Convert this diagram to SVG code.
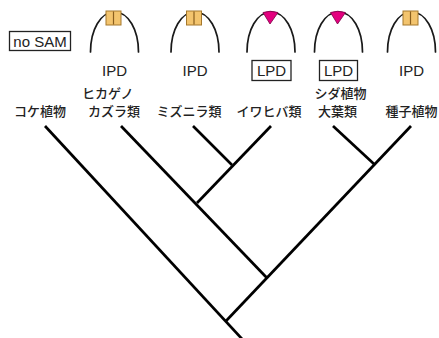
<svg xmlns="http://www.w3.org/2000/svg" xmlns:xlink="http://www.w3.org/1999/xlink" width="439" height="338" viewBox="0 0 439 338">
  <style>
    .arch { fill: none; stroke: #1a1a1a; stroke-width: 1.7; stroke-linecap: round; }
    .ipd { fill: #f3c46e; stroke: #a5782c; stroke-width: 1; }
    .ipd-div { stroke: #8a5f1e; stroke-width: 1.2; }
    .lpd { fill: #e4007f; stroke: #7a0045; stroke-width: 0.8; stroke-linejoin: round; }
    .box { fill: #fff; stroke: #222; stroke-width: 1.3; }
    .lat { font-family: "Liberation Sans", Arial, sans-serif; font-size: 15px; fill: #222; text-anchor: middle; }
    .jp { font-family: "Noto Sans CJK JP", "Noto Sans CJK SC", sans-serif; font-size: 13px; font-weight: 500; fill: #222; }
    .mid { text-anchor: middle; }
    .branch { fill: none; stroke: #000; stroke-width: 2.7; stroke-linecap: butt; }
  </style>
  <defs>
    <!-- shoot-apex dome, centred on x = 0 -->
    <path id="dome" class="arch" d="M -24,52 C -24,30 -14,12 0,12 C 14,12 24,30 24,52"/>
    <!-- initial-cell group: two cells side by side -->
    <g id="ipdCells">
      <rect class="ipd" x="-8.5" y="11" width="15" height="14"/>
      <line class="ipd-div" x1="-1" y1="11.5" x2="-1" y2="24.5"/>
    </g>
    <!-- single apical cell -->
    <path id="lpdCell" class="lpd" d="M -8,12.5 Q -1,10 7,12.5 L -1,24 Z"/>
  </defs>

  <g id="legend-no-sam">
    <rect class="box" x="9.5" y="31.5" width="61" height="19"/>
    <text class="lat" x="40" y="46.5">no SAM</text>
  </g>

  <g id="bryophytes">
    <text class="jp" x="14" y="116">コケ植物</text>
  </g>

  <g id="lycopodiaceae" transform="translate(114.5,0)">
    <use xlink:href="#dome"/>
    <use xlink:href="#ipdCells"/>
    <text class="lat" x="0" y="76">IPD</text>
  </g>
  <g id="lycopodiaceae-label">
    <text class="jp" x="82" y="98">ヒカゲノ</text>
    <text class="jp" x="88" y="116">カズラ類</text>
  </g>

  <g id="isoetaceae" transform="translate(195,0)">
    <use xlink:href="#dome"/>
    <use xlink:href="#ipdCells"/>
    <text class="lat" x="0" y="76">IPD</text>
    <text class="jp mid" x="-6" y="116">ミズニラ類</text>
  </g>

  <g id="selaginellaceae" transform="translate(271,0)">
    <use xlink:href="#dome"/>
    <use xlink:href="#lpdCell"/>
    <rect class="box" x="-19" y="60.5" width="39" height="20"/>
    <text class="lat" x="0.5" y="76">LPD</text>
    <text class="jp mid" x="-2" y="116">イワヒバ類</text>
  </g>

  <g id="monilophytes" transform="translate(338.5,0)">
    <use xlink:href="#dome"/>
    <use xlink:href="#lpdCell"/>
    <rect class="box" x="-19" y="60.5" width="38" height="20"/>
    <text class="lat" x="0" y="76">LPD</text>
    <text class="jp mid" x="2" y="98">シダ植物</text>
    <text class="jp mid" x="-1" y="116">大葉類</text>
  </g>

  <g id="seed-plants" transform="translate(411.5,0)">
    <use xlink:href="#dome"/>
    <use xlink:href="#ipdCells"/>
    <text class="lat" x="0" y="76">IPD</text>
    <text class="jp mid" x="0" y="116">種子植物</text>
  </g>

  <g id="tree">
    <line class="branch" x1="45" y1="126" x2="243" y2="340"/>
    <line class="branch" x1="121" y1="126" x2="267" y2="278"/>
    <line class="branch" x1="193" y1="126" x2="232" y2="165"/>
    <line class="branch" x1="271" y1="126" x2="197" y2="203"/>
    <line class="branch" x1="333" y1="126" x2="374" y2="164"/>
    <line class="branch" x1="411" y1="126" x2="226" y2="321"/>
  </g>
</svg>
